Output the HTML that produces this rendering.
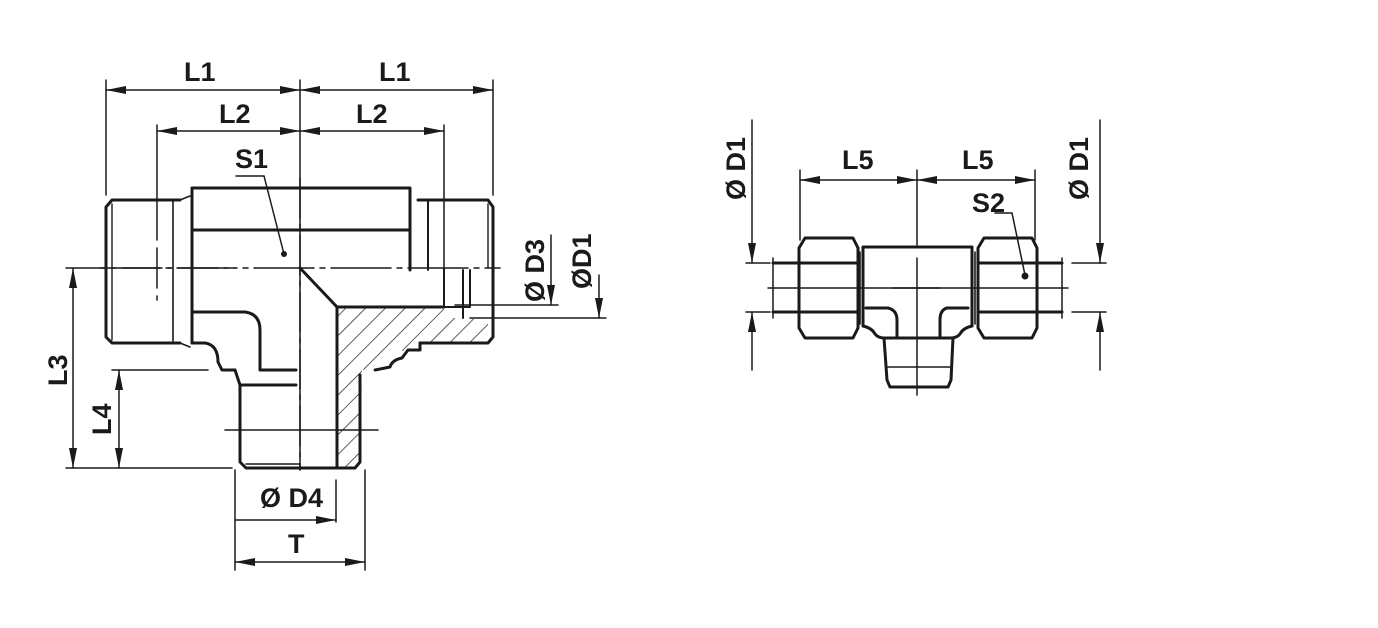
<!DOCTYPE html>
<html><head><meta charset="utf-8"><style>
html,body{margin:0;padding:0;background:#fff;}
svg{display:block;}
text{font-family:"Liberation Sans",sans-serif;font-weight:bold;fill:#1a1a1a;}
</style></head><body>
<svg width="1378" height="628" viewBox="0 0 1378 628" xmlns="http://www.w3.org/2000/svg">
<defs>
<marker id="a" viewBox="0 0 20 8" refX="20" refY="4" markerWidth="20" markerHeight="8" markerUnits="userSpaceOnUse" orient="auto-start-reverse"><path d="M0,0 L20,4 L0,8 Z" fill="#1a1a1a"/></marker>
<pattern id="h" width="14" height="14" patternUnits="userSpaceOnUse" patternTransform="rotate(45)"><line x1="0" y1="0" x2="0" y2="14" stroke="#1a1a1a" stroke-width="1.4"/></pattern>
</defs>
<g stroke="#1a1a1a" fill="none" stroke-linecap="round">
<g stroke-width="1.5">
<line x1="106" y1="80" x2="106" y2="195"/>
<line x1="300" y1="80" x2="300" y2="470"/>
<line x1="493" y1="80" x2="493" y2="195"/>
<line x1="157" y1="125" x2="157" y2="200"/>
<line x1="444" y1="125" x2="444" y2="200"/>
<line x1="106" y1="90" x2="300" y2="90" marker-start="url(#a)" marker-end="url(#a)"/>
<line x1="300" y1="90" x2="493" y2="90" marker-start="url(#a)" marker-end="url(#a)"/>
<line x1="157" y1="131" x2="300" y2="131" marker-start="url(#a)" marker-end="url(#a)"/>
<line x1="300" y1="131" x2="444" y2="131" marker-start="url(#a)" marker-end="url(#a)"/>
<polyline points="236,176 264,176 284,254"/>
<line x1="66" y1="268" x2="235" y2="268" stroke-dasharray="40,6,4,6"/>
<line x1="66" y1="468" x2="232" y2="468"/>
<line x1="112" y1="370" x2="208" y2="370"/>
<line x1="73" y1="268" x2="73" y2="468" marker-start="url(#a)" marker-end="url(#a)"/>
<line x1="119" y1="370" x2="119" y2="468" marker-start="url(#a)" marker-end="url(#a)"/>
<line x1="455" y1="305" x2="558" y2="305"/>
<line x1="470" y1="318" x2="606" y2="318"/>
<line x1="551" y1="235" x2="551" y2="305" marker-end="url(#a)"/>
<line x1="599" y1="275" x2="599" y2="318" marker-end="url(#a)"/>
<line x1="235" y1="470" x2="235" y2="570"/>
<line x1="365" y1="470" x2="365" y2="570"/>
<line x1="336" y1="480" x2="336" y2="522"/>
<line x1="235" y1="520" x2="336" y2="520" marker-end="url(#a)"/>
<line x1="235" y1="562" x2="365" y2="562" marker-start="url(#a)" marker-end="url(#a)"/>
<line x1="100" y1="268" x2="500" y2="268" stroke-dasharray="60,6,5,6"/>
<line x1="300" y1="178" x2="300" y2="470" stroke-dasharray="40,6,5,6"/>
<line x1="157" y1="200" x2="157" y2="300" stroke-dasharray="40,8"/>
<line x1="444" y1="200" x2="444" y2="270"/>
<line x1="225" y1="430" x2="378" y2="430"/>
</g>
<path d="M337,307 L444,307 L444,318 L470,318 L488,323 L490,343 L420,343 L410,350 L385,352 L375,368 L362,370 L360,468 L337,468 Z" fill="url(#h)" stroke="none"/>
<g stroke-width="3" stroke-linejoin="round">
<path d="M180,200 L112,200 L106,207 L106,337 L112,343 L180,343"/>
<line x1="173" y1="200" x2="173" y2="343" stroke-width="1.6"/>
<line x1="112" y1="204" x2="112" y2="340" stroke-width="1.4"/>
<path d="M180,200 L190,196 M180,343 L190,347" stroke-width="1.5"/>
<path d="M192,343 L192,188 L410,188 L410,200"/>
<line x1="192" y1="230" x2="410" y2="230"/>
<line x1="410" y1="200" x2="410" y2="270"/>
<path d="M192,343 L205,343 Q218,345 218,362 L222,370 L235,370"/>
<path d="M192,312 L245,312 Q260,314 260,330 L260,370 L296,370"/>
<line x1="240" y1="385" x2="296" y2="385"/>
<path d="M300,268 L337,307 L337,468"/>
<line x1="337" y1="307" x2="444" y2="307"/>
<path d="M418,200 L488,200 L493,207 L493,337 L488,343 L420,343"/>
<line x1="428" y1="200" x2="428" y2="270" stroke-width="2"/>
<line x1="488" y1="204" x2="488" y2="268" stroke-width="1.4"/>
<path d="M444,268 L444,307 L470,307 L470,270" stroke-width="2"/>
<line x1="463" y1="270" x2="463" y2="318" stroke-width="2"/>
<path d="M420,343 L420,350 L408,350 L402,358 Q392,360 390,367 L375,370"/>
<path d="M235,370 L240,385 L240,462 L246,468 L355,468 L360,462 L360,375"/>
<line x1="246" y1="464" x2="300" y2="464" stroke-width="1.5"/>
</g>
<g stroke-width="1.5">
<line x1="752" y1="120" x2="752" y2="263" marker-end="url(#a)"/>
<line x1="752" y1="370" x2="752" y2="312" marker-end="url(#a)"/>
<line x1="746" y1="263" x2="770" y2="263"/>
<line x1="746" y1="312" x2="770" y2="312"/>
<line x1="1100" y1="120" x2="1100" y2="263" marker-end="url(#a)"/>
<line x1="1100" y1="370" x2="1100" y2="312" marker-end="url(#a)"/>
<line x1="1072" y1="263" x2="1106" y2="263"/>
<line x1="1072" y1="312" x2="1106" y2="312"/>
<line x1="800" y1="170" x2="800" y2="240"/>
<line x1="917" y1="170" x2="917" y2="245"/>
<line x1="1035" y1="170" x2="1035" y2="240"/>
<line x1="800" y1="180" x2="917" y2="180" marker-start="url(#a)" marker-end="url(#a)"/>
<line x1="917" y1="180" x2="1035" y2="180" marker-start="url(#a)" marker-end="url(#a)"/>
<polyline points="995,213 1012,213 1025,275"/>
<line x1="768" y1="288" x2="1068" y2="288"/>
<line x1="917" y1="258" x2="917" y2="395"/>
<line x1="893" y1="288" x2="940" y2="288"/>
<line x1="888" y1="367" x2="950" y2="367"/>
<line x1="773" y1="258" x2="773" y2="318"/>
<line x1="1062" y1="258" x2="1062" y2="318"/>
</g>
<g stroke-width="3" stroke-linejoin="round">
<path d="M805,238 L853,238 L858,248 L858,328 L853,338 L805,338 L799,328 L799,248 Z"/>
<path d="M984,238 L1032,238 L1037,248 L1037,328 L1032,338 L984,338 L978,328 L978,248 Z"/>
<line x1="773" y1="263" x2="858" y2="263"/><line x1="773" y1="312" x2="858" y2="312"/>
<line x1="978" y1="263" x2="1062" y2="263"/><line x1="978" y1="312" x2="1062" y2="312"/>
<line x1="860" y1="252" x2="860" y2="324" stroke-width="1.6"/>
<line x1="975" y1="252" x2="975" y2="324" stroke-width="1.6"/>
<path d="M863,326 L863,247 L972,247 L972,326"/>
<path d="M863,326 Q872,328 875,334 Q878,338 885,338 L950,338 Q957,338 960,334 Q963,328 972,326"/>
<path d="M866,308 L888,308 Q897,310 897,320 L897,337"/>
<path d="M968,308 L947,308 Q940,310 940,320 L940,337"/>
<path d="M884,338 L887,380 L890,387 L948,387 L951,380 L953,338"/>
</g>
<circle cx="284" cy="254" r="3" fill="#1a1a1a" stroke="none"/>
<circle cx="1025" cy="276" r="3.5" fill="#1a1a1a" stroke="none"/>
</g>
<g font-size="27">
<text x="184" y="81">L1</text>
<text x="379" y="81">L1</text>
<text x="219" y="123">L2</text>
<text x="356" y="123">L2</text>
<text x="235" y="168">S1</text>
<text x="260" y="507">Ø D4</text>
<text x="288" y="553">T</text>
<text x="842" y="169">L5</text>
<text x="962" y="169">L5</text>
<text x="972" y="212">S2</text>
<text transform="translate(67,386) rotate(-90)">L3</text>
<text transform="translate(111,435) rotate(-90)">L4</text>
<text transform="translate(544,302) rotate(-90)">Ø D3</text>
<text transform="translate(591,289) rotate(-90)">ØD1</text>
<text transform="translate(745,200) rotate(-90)">Ø D1</text>
<text transform="translate(1088,200) rotate(-90)">Ø D1</text>
</g>
</svg>
</body></html>
